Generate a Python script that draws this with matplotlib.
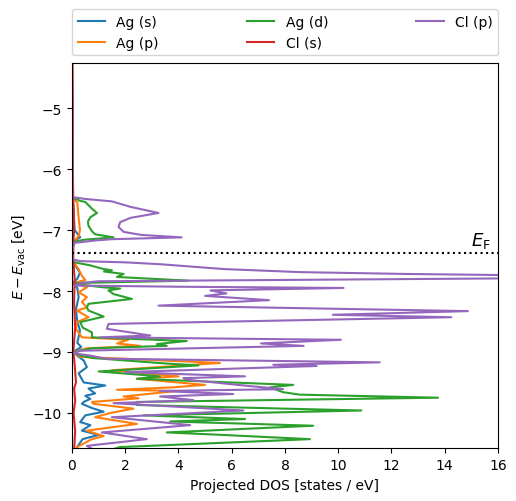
import matplotlib
matplotlib.use('Agg')
import matplotlib.pyplot as plt

# Fermi level and plot limits (eV)
e_fermi = -7.37
e_min, e_max = -10.58, -4.26

# Ag (s)
ag_s_e = [-4.2, -6.46, -6.6, -7.0, -7.12, -7.18, -7.48, -7.6, -7.7, -7.8, -7.87, -7.95,
          -8.1, -8.3, -8.5, -8.65, -8.85, -8.92, -9.0, -9.06, -9.14, -9.25, -9.35, -9.5,
          -9.55, -9.6, -9.68, -9.72, -9.77, -9.82, -9.85, -9.92, -9.98, -10.04, -10.15,
          -10.2, -10.29, -10.36, -10.43, -10.56, -10.6]
ag_s_dos = [0.0, 0.0, 0.05, 0.1, 0.31, 0.05, 0.01, 0.15, 0.3, 0.2, 0.02, 0.2,
            0.25, 0.15, 0.2, 0.3, 0.2, 0.35, 0.03, 0.2, 0.44, 0.56, 0.25, 0.44,
            1.25, 0.62, 0.87, 0.5, 0.69, 0.44, 0.37, 0.75, 1.19, 0.5, 0.31,
            0.69, 0.37, 1.0, 0.4, 0.19, 0.2]

# Ag (p)
ag_p_e = [-4.2, -6.46, -6.55, -6.8, -7.0, -7.1, -7.2, -7.48, -7.55, -7.64, -7.75, -7.82,
          -7.87, -7.94, -8.02, -8.1, -8.18, -8.27, -8.32, -8.43, -8.51, -8.62, -8.76, -8.8,
          -8.86, -8.9, -8.94, -9.0, -9.08, -9.18, -9.3, -9.4, -9.44, -9.54, -9.58, -9.62,
          -9.64, -9.73, -9.76, -9.82, -9.85, -9.93, -10.0, -10.07, -10.18, -10.29, -10.38,
          -10.43, -10.56, -10.6]
ag_p_dos = [0.0, 0.01, 0.2, 0.25, 0.3, 0.25, 0.05, 0.02, 0.1, 0.25, 0.37, 0.5,
            0.05, 0.56, 0.25, 0.56, 0.37, 0.56, 0.19, 0.62, 0.19, 0.15, 0.37, 2.12,
            1.69, 2.56, 0.56, 0.05, 0.31, 5.56, 1.5, 4.0, 2.44, 5.0, 3.81, 1.69,
            3.94, 1.94, 2.5, 0.75, 0.81, 2.31, 1.44, 0.87, 2.44, 0.56, 1.19,
            0.75, 0.19, 0.2]

# Ag (d)
ag_d_e = [-4.2, -6.46, -6.52, -6.54, -6.65, -6.72, -6.79, -6.86, -6.93, -7.02, -7.07, -7.12,
          -7.16, -7.19, -7.3, -7.48, -7.53, -7.58, -7.64, -7.66, -7.68, -7.72, -7.77, -7.83,
          -7.87, -7.9, -7.94, -7.96, -7.99, -8.05, -8.13, -8.21, -8.27, -8.32, -8.42, -8.51,
          -8.6, -8.68, -8.76, -8.82, -8.87, -8.9, -8.94, -9.0, -9.06, -9.1, -9.19, -9.22,
          -9.32, -9.4, -9.44, -9.54, -9.58, -9.66, -9.7, -9.75, -9.82, -9.87, -9.96, -10.04,
          -10.1, -10.14, -10.21, -10.32, -10.36, -10.43, -10.56, -10.6]
ag_d_dos = [0.0, 0.01, 0.3, 0.5, 0.75, 0.94, 0.69, 0.6, 0.62, 0.75, 0.87, 1.56,
            0.44, 0.1, 0.02, 0.02, 0.1, 0.69, 1.19, 1.5, 1.2, 1.94, 1.69, 4.37,
            0.1, 0.4, 1.19, 1.81, 1.37, 1.56, 2.25, 0.62, 0.56, 0.62, 1.19, 0.31,
            0.4, 0.75, 0.75, 4.31, 3.19, 3.56, 0.75, 0.05, 0.31, 0.8, 3.56, 4.75,
            1.0, 3.31, 2.44, 8.31, 7.44, 7.93, 8.56, 13.75, 2.44, 2.44, 10.87, 2.69,
            6.5, 3.69, 9.06, 3.56, 5.62, 8.94, 1.81, 1.5]

# Cl (s)
cl_s_e = [-4.2, -5.0, -6.0, -6.5, -7.0, -7.2, -7.5, -7.8, -8.2, -8.6, -9.0, -9.2,
          -9.5, -9.6, -9.8, -10.0, -10.3, -10.6]
cl_s_dos = [0.02, 0.03, 0.03, 0.05, 0.08, 0.05, 0.05, 0.1, 0.08, 0.12, 0.05, 0.1,
            0.15, 0.08, 0.12, 0.06, 0.12, 0.08]

# Cl (p)
cl_p_e = [-4.2, -6.46, -6.49, -6.53, -6.62, -6.72, -6.8, -6.87, -6.95, -7.03, -7.08, -7.12,
          -7.15, -7.17, -7.21, -7.3, -7.48, -7.51, -7.53, -7.56, -7.64, -7.69, -7.72, -7.74,
          -7.77, -7.8, -7.84, -7.87, -7.91, -7.93, -7.95, -7.99, -8.04, -8.08, -8.15, -8.24,
          -8.33, -8.39, -8.43, -8.54, -8.62, -8.73, -8.76, -8.8, -8.86, -8.9, -8.98, -9.02,
          -9.06, -9.11, -9.17, -9.21, -9.23, -9.33, -9.4, -9.43, -9.46, -9.56, -9.61, -9.64,
          -9.69, -9.73, -9.79, -9.84, -9.96, -10.07, -10.2, -10.32, -10.43, -10.54, -10.6]
cl_p_dos = [0.0, 0.02, 0.5, 1.5, 2.2, 3.25, 2.2, 1.81, 1.75, 1.94, 2.6, 4.12,
            1.5, 0.9, 0.1, 0.02, 0.02, 0.3, 2.0, 3.3, 5.7, 8.56, 12.5, 16.5,
            24.0, 14.0, 1.0, 0.3, 0.1, 4.0, 10.2, 5.2, 5.8, 5.0, 7.4, 3.25,
            14.87, 9.8, 14.25, 1.37, 1.31, 2.94, 1.06, 10.1, 7.1, 8.7, 0.3, 0.05,
            0.7, 1.25, 11.56, 7.56, 9.19, 2.0, 6.5, 4.19, 4.44, 6.69, 7.93, 3.31,
            6.06, 3.31, 4.56, 1.56, 6.44, 1.5, 4.44, 1.12, 2.81, 0.56, 0.8]

fig, ax = plt.subplots(figsize=(5.16, 5.02), dpi=100)
fig.subplots_adjust(left=0.1395, right=0.965, bottom=0.105, top=0.8725)

ax.plot(ag_s_dos, ag_s_e, label='Ag (s)')
ax.plot(ag_p_dos, ag_p_e, label='Ag (p)')
ax.plot(ag_d_dos, ag_d_e, label='Ag (d)')
ax.plot(cl_s_dos, cl_s_e, label='Cl (s)')
ax.plot(cl_p_dos, cl_p_e, label='Cl (p)')

ax.axhline(e_fermi, color='k', linestyle=':')
ax.text(15.0, e_fermi + 0.05, r'$E_\mathrm{F}$', fontsize=13, va='bottom')

ax.set_xlim(0, 16)
ax.set_ylim(e_min, e_max)
ax.set_xlabel('Projected DOS [states / eV]')
ax.set_ylabel(r'$E - E_\mathrm{vac}$ [eV]')
ax.legend(bbox_to_anchor=(0, 1.02, 1, 0.102), loc='lower left', ncol=3,
          mode='expand', borderaxespad=0)

plt.savefig('out.png')
